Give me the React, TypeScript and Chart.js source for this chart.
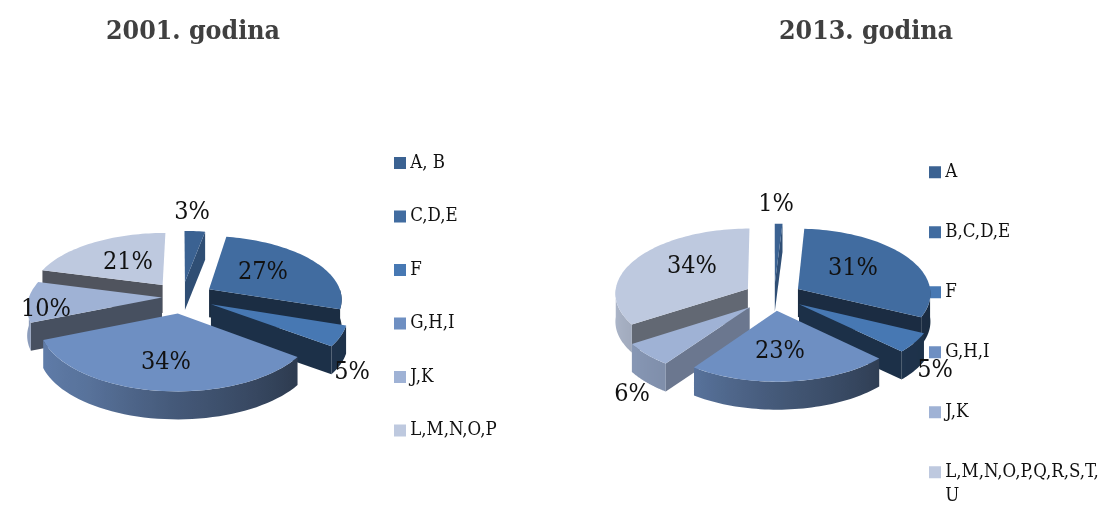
import React, { useEffect, useRef } from "react";
import { Chart, registerables } from "chart.js";

Chart.register(...registerables);

const title2001 = "2001. godina";
const categories2001: (string | string[])[] = ["A, B", "C,D,E", "F", "G,H,I", "J,K", "L,M,N,O,P"];
const values2001 = [3, 27, 5, 34, 10, 21];

const title2013 = "2013. godina";
const categories2013: (string | string[])[] = ["A", "B,C,D,E", "F", "G,H,I", "J,K", ["L,M,N,O,P,Q,R,S,T,", "U"]];
const values2013 = [1, 31, 5, 23, 6, 34];

const sliceColors = ["#3b6292", "#416ca0", "#4778b3", "#6e8fc2", "#9fb2d5", "#bec9df"];

const SERIF = "'DejaVu Serif Condensed','DejaVu Serif',serif";
const DEPTH = 28;

function interp(table: number[][], v: number) {
  if (v <= table[0][0]) return table[0][1];
  for (let i = 1; i < table.length; i++) {
    if (v <= table[i][0]) {
      const [a, b] = [table[i - 1], table[i]];
      return a[1] + ((b[1] - a[1]) * (v - a[0])) / (b[0] - a[0]);
    }
  }
  return table[table.length - 1][1];
}
const curvedShade = [[90, 0.4], [130, 0.42], [180, 0.62], [216, 0.8], [270, 0.92]];
const radialShade = [[100, 0.8], [126, 0.67], [147, 0.52], [158, 0.45], [194, 0.42], [216, 0.4]];

function shade(hex: string, f: number) {
  const n = parseInt(hex.slice(1), 16);
  const c = [(n >> 16) & 255, (n >> 8) & 255, n & 255].map((x) => Math.round(x * f));
  return `rgb(${c[0]},${c[1]},${c[2]})`;
}

const pie3d = (p: any) => ({
  id: "pie3d",
  afterLayout(chart: any) {
    const half = 200;
    chart.chartArea = {
      left: p.cx - half, right: p.cx + half, top: p.cy - half, bottom: p.cy + half,
      width: 2 * half, height: 2 * half,
    };
    const lg = chart.legend;
    const w = lg.right - lg.left;
    lg.left = p.legendX;
    lg.right = p.legendX + w;
    lg.top = p.legendY;
    lg.bottom = 5000;
    const tb = chart.titleBlock;
    tb.left = p.titleX - half;
    tb.right = p.titleX + half;
  },
  beforeDatasetsDraw(chart: any) {
    const ctx: CanvasRenderingContext2D = chart.ctx;
    const meta = chart.getDatasetMeta(0);
    const arcs = meta.data.map((arc: any, i: number) => {
      const start = arc.startAngle + Math.PI / 2;
      const end = arc.endAngle + Math.PI / 2;
      return { arc, i, start, end, mid: (start + end) / 2 };
    });
    arcs.sort(
      (a: any, b: any) =>
        Math.abs(b.mid - Math.PI) - Math.abs(a.mid - Math.PI)
    );
    for (const s of arcs) {
      const { arc, start, end, mid } = s;
      const R = arc.outerRadius;
      const off = (arc.options.offset || 0) / 4;
      const color = arc.options.backgroundColor;
      const ox = off * Math.sin(mid);
      const oy = -off * Math.cos(mid);
      const P = (r: number, t: number, z: number) => {
        const fx = ox + r * Math.sin(t);
        const fy = oy - r * Math.cos(t);
        const k = 1 + (p.perspective * fy) / R;
        return [arc.x + fx * k, arc.y + p.tilt * fy * k + z];
      };
      const poly = (pts: number[][], fill: any) => {
        ctx.beginPath();
        pts.forEach((q, i) => (i ? ctx.lineTo(q[0], q[1]) : ctx.moveTo(q[0], q[1])));
        ctx.closePath();
        ctx.fillStyle = fill;
        ctx.fill();
      };
      const deg = (t: number) => (t * 180) / Math.PI;
      // radial walls that face the viewer
      if (Math.sin(start) < -0.001) {
        poly([P(0, 0, 0), P(R, start, 0), P(R, start, DEPTH), P(0, 0, DEPTH)],
          shade(color, interp(radialShade, deg(start) - 90)));
      }
      if (Math.sin(end) > 0.001) {
        poly([P(0, 0, 0), P(R, end, 0), P(R, end, DEPTH), P(0, 0, DEPTH)],
          shade(color, interp(radialShade, deg(end) + 90)));
      }
      // curved wall
      const a0 = Math.max(start, Math.PI / 2);
      const a1 = Math.min(end, (3 * Math.PI) / 2);
      if (a1 > a0) {
        const n = 48;
        const top: number[][] = [];
        const bot: number[][] = [];
        for (let j = 0; j <= n; j++) {
          const t = a0 + ((a1 - a0) * j) / n;
          top.push(P(R, t, 0));
          bot.push(P(R, t, DEPTH));
        }
        const xR = top[0][0];
        const xL = top[n][0];
        const g = ctx.createLinearGradient(xL, 0, xR, 0);
        for (let j = 0; j <= n; j++) {
          const t = a0 + ((a1 - a0) * j) / n;
          const stop = xR === xL ? 0 : (top[j][0] - xL) / (xR - xL);
          g.addColorStop(Math.min(1, Math.max(0, stop)), shade(color, interp(curvedShade, deg(t))));
        }
        poly([...top, ...bot.reverse()], g);
      }
      // top face
      const face: number[][] = [P(0, 0, 0)];
      const steps = Math.max(4, Math.ceil((end - start) / 0.03));
      for (let j = 0; j <= steps; j++) {
        face.push(P(R, start + ((end - start) * j) / steps, 0));
      }
      poly(face, color);
    }
    return false;
  },
  afterDraw(chart: any) {
    const ctx: CanvasRenderingContext2D = chart.ctx;
    const meta = chart.getDatasetMeta(0);
    ctx.save();
    ctx.font = `25px ${SERIF}`;
    ctx.fillStyle = "#111";
    ctx.textAlign = "center";
    ctx.textBaseline = "middle";
    meta.data.forEach((arc: any, i: number) => {
      const v = chart.data.datasets[0].data[i];
      ctx.fillText(`${v}%`, arc.x + p.labelOffsets[i][0], arc.y + p.labelOffsets[i][1] + 1);
    });
    ctx.restore();
  },
});

function PieChart(props: any) {
  const ref = useRef<HTMLCanvasElement>(null);
  useEffect(() => {
    const chart = new Chart(ref.current as HTMLCanvasElement, {
      type: "pie",
      data: {
        labels: props.labels,
        datasets: [{
          data: props.values,
          backgroundColor: sliceColors,
          borderWidth: 0,
          offset: props.offsets,
        }],
      },
      options: {
        responsive: false,
        animation: false,
        radius: props.radius,
        events: [],
        plugins: {
          tooltip: { enabled: false },
          title: {
            display: true,
            text: props.title,
            color: "#404040",
            font: { family: SERIF, size: 26.5, weight: "bold" },
            padding: { top: 16, bottom: 10 },
          },
          legend: {
            position: "right",
            align: "start",
            labels: {
              boxWidth: 2,
              boxHeight: 2,
              padding: props.legendPad,
              color: "#111",
              font: { family: SERIF, size: 18.5, lineHeight: 1.3 },
              generateLabels(c: any) {
                return Chart.overrides.doughnut.plugins.legend.labels.generateLabels(c).map((it: any) => ({
                  ...it,
                  lineWidth: 10,
                  strokeStyle: it.fillStyle,
                  lineJoin: "miter",
                }));
              },
            },
          },
        },
      } as any,
      plugins: [pie3d(props)],
    } as any);
    return () => chart.destroy();
  }, []);
  return (
    <canvas
      ref={ref}
      width={props.width}
      height={505}
      style={{ position: "absolute", left: props.left, top: 0, display: "block" }}
    />
  );
}

export default function App() {
  return (
    <div style={{ position: "fixed", left: 0, top: 0, width: 1107, height: 505, background: "#fff", overflow: "hidden" }}>
      <PieChart
        left={0}
        width={553}
        title={title2001}
        labels={categories2001}
        values={values2001}
        radius={133}
        tilt={0.485}
        perspective={0.14}
        offsets={[128, 128, 128, 132, 80, 130]}
        cx={182}
        cy={297}
        legendX={364}
        legendY={118.75}
        legendPad={35}
        titleX={193}
        labelOffsets={[[10, -86], [81, -26], [170, 74], [-16, 64], [-136, 11], [-54, -36]]}
      />
      <PieChart
        left={553}
        width={554}
        title={title2013}
        labels={categories2013}
        values={values2013}
        radius={133}
        tilt={0.49}
        perspective={0.06}
        offsets={[104, 112, 120, 120, 132, 120]}
        cx={221}
        cy={296}
        legendX={339.5}
        legendY={121.5}
        legendPad={41.5}
        titleX={313}
        labelOffsets={[[2, -93], [79, -29], [161, 73], [6, 54], [-142, 97], [-82, -31]]}
      />
    </div>
  );
}
